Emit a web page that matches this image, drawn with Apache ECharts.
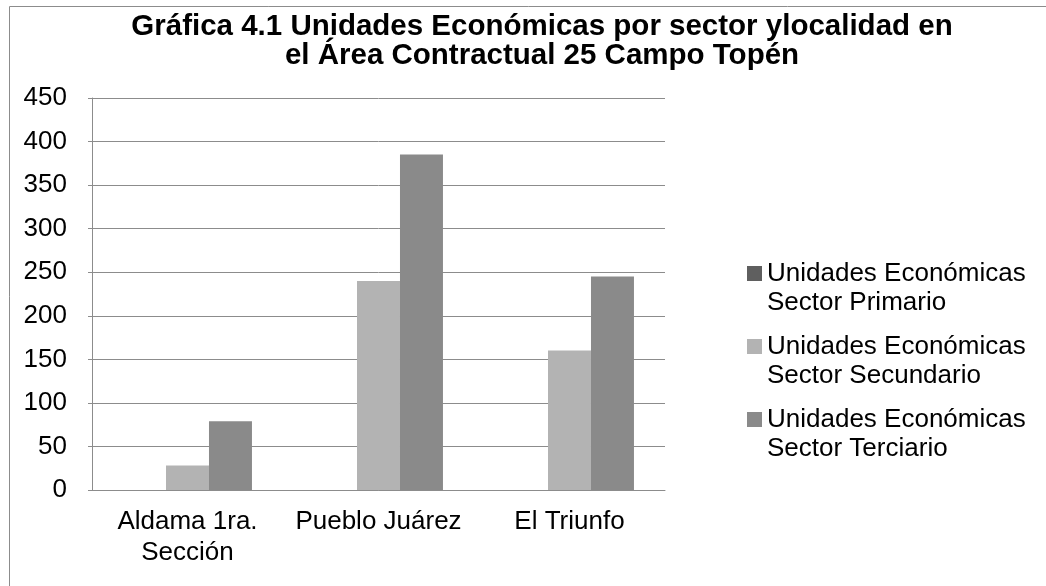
<!DOCTYPE html>
<html>
<head>
<meta charset="utf-8">
<script src="https://cdn.jsdelivr.net/npm/echarts@6/dist/echarts.min.js"></script>
<style>
html,body{margin:0;padding:0;background:#fff;}
#chart{width:1046px;height:586px;}
</style>
</head>
<body>
<div id="chart"></div>
<script>
const categories = ['Aldama 1ra.\nSección', 'Pueblo Juárez', 'El Triunfo'];
const seriesNames = ['Unidades Económicas\nSector Primario', 'Unidades Económicas\nSector Secundario', 'Unidades Económicas\nSector Terciario'];
const primario = [0, 0, 0];
const secundario = [28, 240, 160];
const terciario = [79, 385, 245];
const colors = ['#5f5f5f', '#b3b3b3', '#8a8a8a'];
const titleText = 'Gráfica 4.1 Unidades Económicas por sector ylocalidad en\nel Área Contractual 25 Campo Topén';

const font = "'Liberation Sans', Arial, sans-serif";
const chart = echarts.init(document.getElementById('chart'));
const values = [primario, secundario, terciario];
chart.setOption({
  animation: false,
  textStyle: {fontFamily: font},
  title: {
    text: titleText,
    left: 542, top: 12, textAlign: 'center', padding: 0,
    textStyle: {fontFamily: font, fontSize: 29.5, fontWeight: 'bold', color: '#000', lineHeight: 29}
  },
  graphic: [{
    type: 'rect', shape: {x: 9.5, y: 6.5, width: 1100, height: 700},
    style: {fill: 'none', stroke: '#8c8c8c', lineWidth: 1}, silent: true, z: -1
  }],
  legend: {
    orient: 'vertical', left: 747, top: 230, padding: 0,
    itemWidth: 15, itemHeight: 15, itemGap: -14,
    icon: 'rect',
    data: seriesNames,
    formatter: function (name) { return ' \n' + name; },
    textStyle: {fontFamily: font, fontSize: 26, color: '#000', lineHeight: 29}
  },
  grid: {left: 92, right: 381, top: 98, bottom: 96, containLabel: false},
  xAxis: {
    type: 'category', data: categories,
    axisLine: {lineStyle: {color: '#8c8c8c', width: 1}},
    axisTick: {show: false},
    axisLabel: {fontFamily: font, fontSize: 26, color: '#000', margin: 16, lineHeight: 31, interval: 0}
  },
  yAxis: {
    type: 'value', min: 0, max: 450, interval: 50,
    axisLine: {show: true, lineStyle: {color: '#8c8c8c', width: 1}},
    axisTick: {show: true, length: 4, lineStyle: {color: '#8c8c8c'}},
    splitLine: {lineStyle: {color: '#8c8c8c', width: 1}},
    axisLabel: {fontFamily: font, fontSize: 26, color: '#000', margin: 25}
  },
  series: seriesNames.map((n, i) => ({
    name: n, type: 'bar', data: values[i],
    barGap: '0%', barCategoryGap: '32.5%',
    itemStyle: {color: colors[i]}
  }))
});
</script>
</body>
</html>
